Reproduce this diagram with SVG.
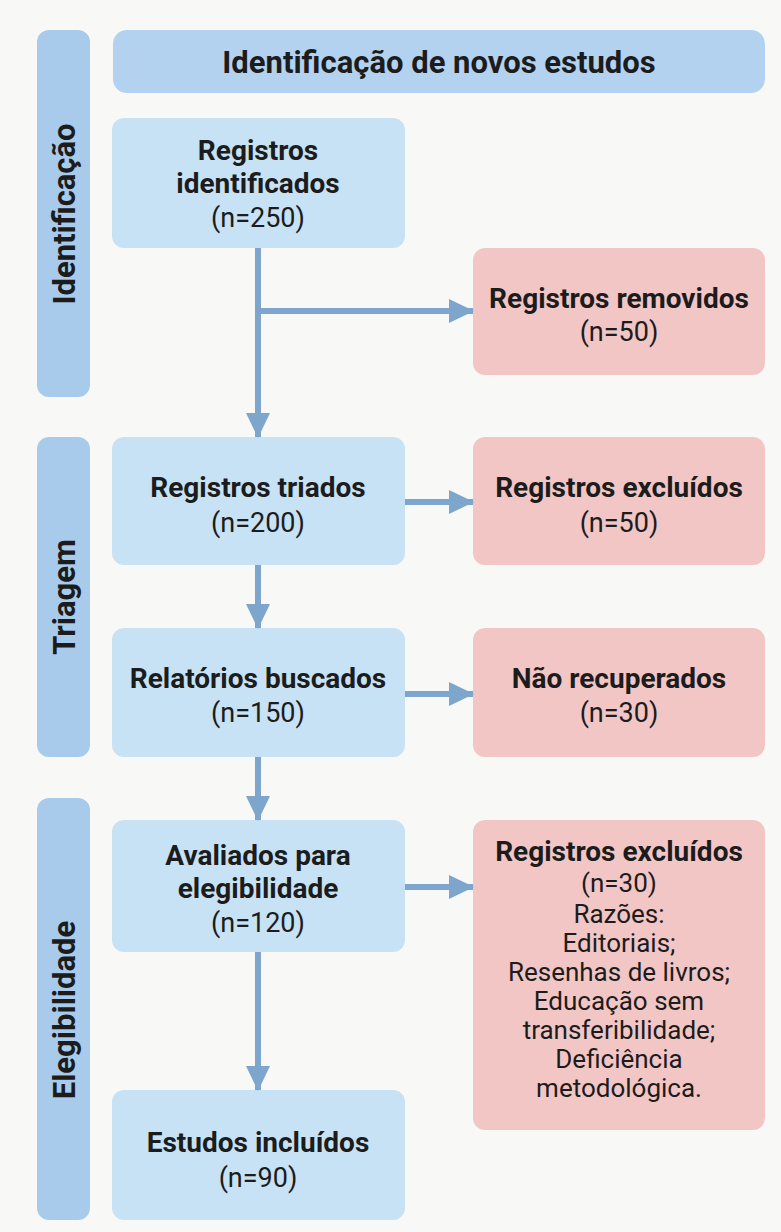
<svg xmlns="http://www.w3.org/2000/svg" width="781" height="1232" viewBox="0 0 781 1232">
<defs>
<marker id="ah" markerUnits="userSpaceOnUse" markerWidth="26" markerHeight="26" viewBox="0 0 26 26" refX="24" refY="13" orient="auto">
<path d="M0,1 L25,13 L0,25 Z" fill="#7ea5cb"/>
</marker>
<style>
.bg{fill:#f8f8f6}
.side{fill:#a8cbec}
.hdr{fill:#b2d2ef}
.blue{fill:#c7e2f5}
.red{fill:#f3c6c6}
.t{font-family:Roboto,"Liberation Sans",sans-serif;font-size:27px;fill:#1c1c1c;text-anchor:middle}
.s{font-size:26px}
.b{font-weight:bold;font-size:28px}
.st{font-family:Roboto,"Liberation Sans",sans-serif;font-size:31px;font-weight:bold;fill:#1c1c1c;text-anchor:middle}
.ht{font-family:Roboto,"Liberation Sans",sans-serif;font-size:31px;font-weight:bold;fill:#1c1c1c;text-anchor:middle}
.c{stroke:#7ea5cb;stroke-width:6;fill:none}
</style>
</defs>
<rect class="bg" x="0" y="0" width="781" height="1232"/>

<g id="side-identificacao">
<rect class="side" x="37" y="30" width="53" height="367" rx="12"/>
<text class="st" transform="translate(75,214) rotate(-90)">Identificação</text>
</g>
<g id="side-triagem">
<rect class="side" x="37" y="437" width="53" height="320" rx="12"/>
<text class="st" transform="translate(75,597) rotate(-90)">Triagem</text>
</g>
<g id="side-elegibilidade">
<rect class="side" x="37" y="798" width="53" height="422" rx="12"/>
<text class="st" transform="translate(75,1010) rotate(-90)">Elegibilidade</text>
</g>

<g id="header">
<rect class="hdr" x="113" y="30" width="652" height="63" rx="14"/>
<text class="ht" x="439" y="73">Identificação de novos estudos</text>
</g>

<g id="n-identificados">
<rect class="blue" x="112" y="118" width="293" height="130" rx="12"/>
<text class="t b" x="258" y="160">Registros</text>
<text class="t b" x="258" y="193">identificados</text>
<text class="t" x="258" y="227">(n=250)</text>
</g>
<g id="n-removidos">
<rect class="red" x="473" y="248" width="292" height="127" rx="12"/>
<text class="t b" x="619" y="308">Registros removidos</text>
<text class="t" x="619" y="341">(n=50)</text>
</g>
<g id="n-triados">
<rect class="blue" x="112" y="437" width="293" height="128" rx="12"/>
<text class="t b" x="258" y="497">Registros triados</text>
<text class="t" x="258" y="532">(n=200)</text>
</g>
<g id="n-excluidos1">
<rect class="red" x="473" y="437" width="292" height="128" rx="12"/>
<text class="t b" x="619" y="497">Registros excluídos</text>
<text class="t" x="619" y="532">(n=50)</text>
</g>
<g id="n-buscados">
<rect class="blue" x="112" y="628" width="293" height="129" rx="12"/>
<text class="t b" x="258" y="688">Relatórios buscados</text>
<text class="t" x="258" y="722">(n=150)</text>
</g>
<g id="n-nao-recuperados">
<rect class="red" x="473" y="628" width="292" height="129" rx="12"/>
<text class="t b" x="619" y="688">Não recuperados</text>
<text class="t" x="619" y="722">(n=30)</text>
</g>
<g id="n-avaliados">
<rect class="blue" x="112" y="820" width="293" height="132" rx="12"/>
<text class="t b" x="258" y="865">Avaliados para</text>
<text class="t b" x="258" y="898">elegibilidade</text>
<text class="t" x="258" y="932">(n=120)</text>
</g>
<g id="n-excluidos2">
<rect class="red" x="473" y="820" width="292" height="310" rx="12"/>
<text class="t b" x="619" y="861">Registros excluídos</text>
<text class="t s" x="619" y="892">(n=30)</text>
<text class="t s" x="619" y="923">Razões:</text>
<text class="t s" x="619" y="952">Editoriais;</text>
<text class="t s" x="619" y="981">Resenhas de livros;</text>
<text class="t s" x="619" y="1010">Educação sem</text>
<text class="t s" x="619" y="1039">transferibilidade;</text>
<text class="t s" x="619" y="1068">Deficiência</text>
<text class="t s" x="619" y="1097">metodológica.</text>
</g>
<g id="n-incluidos">
<rect class="blue" x="112" y="1090" width="293" height="130" rx="12"/>
<text class="t b" x="258" y="1152">Estudos incluídos</text>
<text class="t" x="258" y="1187">(n=90)</text>
</g>

<g id="connectors">
<line class="c" x1="258" y1="248" x2="258" y2="437" marker-end="url(#ah)"/>
<line class="c" x1="258" y1="311" x2="473" y2="311" marker-end="url(#ah)"/>
<line class="c" x1="405" y1="502" x2="473" y2="502" marker-end="url(#ah)"/>
<line class="c" x1="258" y1="565" x2="258" y2="628" marker-end="url(#ah)"/>
<line class="c" x1="405" y1="694" x2="473" y2="694" marker-end="url(#ah)"/>
<line class="c" x1="258" y1="757" x2="258" y2="820" marker-end="url(#ah)"/>
<line class="c" x1="405" y1="887" x2="473" y2="887" marker-end="url(#ah)"/>
<line class="c" x1="258" y1="952" x2="258" y2="1090" marker-end="url(#ah)"/>
</g>
</svg>
